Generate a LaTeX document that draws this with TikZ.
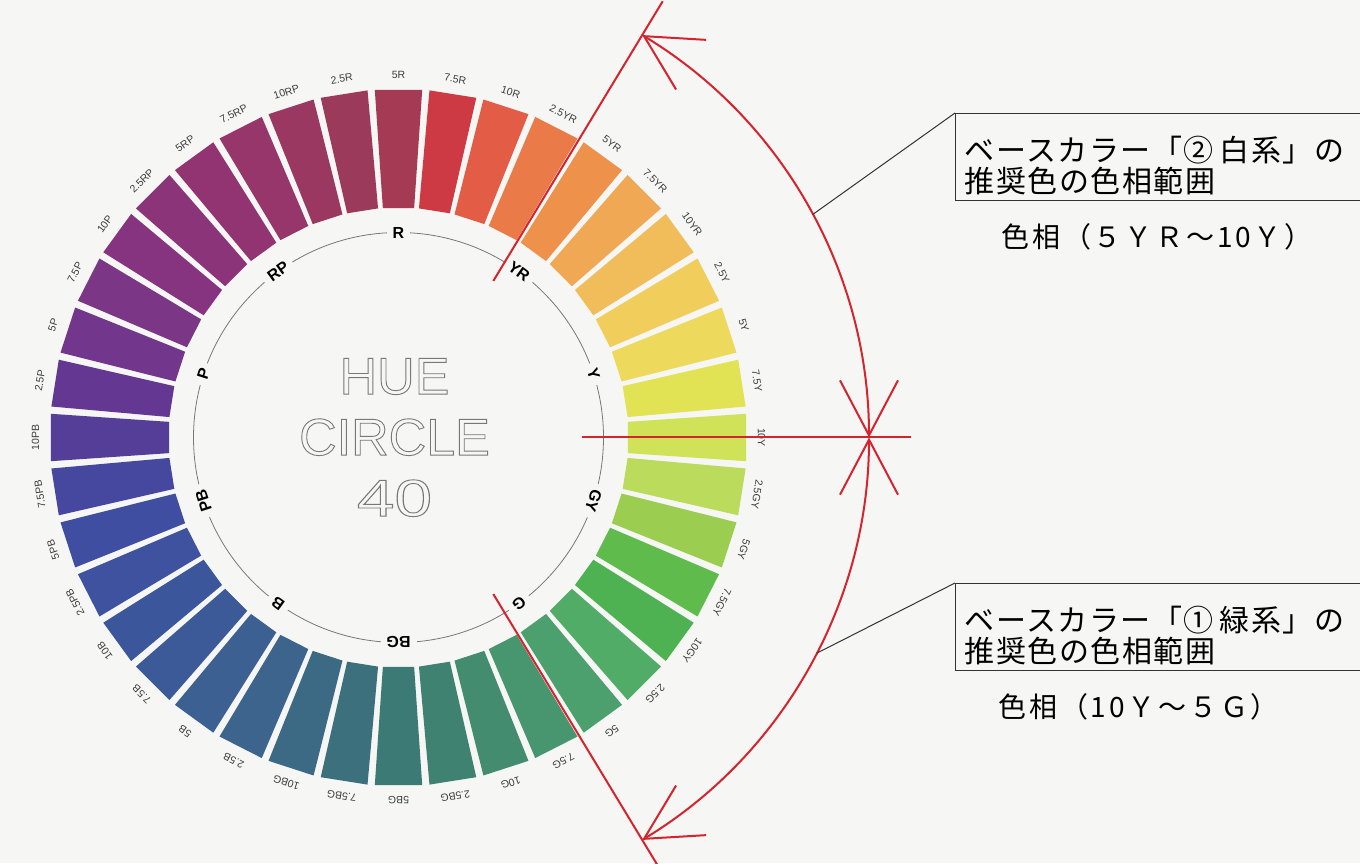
\documentclass[tikz,border=0pt]{standalone}
\usepackage{fontspec}
\setmainfont{Liberation Sans}
\newfontfamily\jpfont{Noto Sans CJK JP}[LetterSpace=5]
\newfontfamily\jpwide{Noto Sans CJK JP}[LetterSpace=10]
\usepackage{graphicx}
\usetikzlibrary{arrows.meta}
\definecolor{hcred}{RGB}{212,36,46}
\definecolor{hcpaper}{RGB}{246,246,244}
\definecolor{hcgray}{RGB}{120,120,120}
\definecolor{hctext}{RGB}{60,60,60}
% stroked (hollow) letters
\newcommand{\hollow}[1]{\special{pdf:literal direct 1 Tr 0.9 w}#1\special{pdf:literal direct 0 Tr}}

\begin{document}
\begin{tikzpicture}[x=1pt,y=1pt,
    patchlabel/.style={font=\fontsize{10.5}{10.5}\selectfont, text=hctext, inner sep=1pt},
    huelabel/.style={font=\bfseries\fontsize{16}{16}\selectfont, fill=hcpaper, inner xsep=6pt, inner ysep=1pt},
    redline/.style={hcred, line width=2pt},
    rangearc/.style={redline, {Straight Barb[length=55pt,width=58pt]}-{Straight Barb[length=55pt,width=58pt]}},
    notebox/.style={draw=black!80, line width=1pt, anchor=north west, align=left,
        inner xsep=9pt, inner ysep=6pt, text width=405pt, font=\jpfont\fontsize{30}{31}\selectfont},
    huerange/.style={anchor=west, font=\jpwide\fontsize{28}{28}\selectfont}
]
    % Paper
    \clip (0,0) rectangle (1360,863);
    \fill[hcpaper] (0,0) rectangle (1360,863);

    \begin{scope}[shift={(398.5,425.5)}]
    % Draw the colour patches
    \foreach \name/\r/\g/\b [count=\i from 0] in {
        5R/165/58/85, 7.5R/205/58/68, 10R/226/92/70, 2.5YR/234/122/72,
        5YR/238/145/75, 7.5YR/240/168/85, 10YR/241/188/90, 2.5Y/241/205/92,
        5Y/237/218/92, 7.5Y/226/226/85, 10Y/208/226/88, 2.5GY/186/219/92,
        5GY/155/205/80, 7.5GY/95/188/76, 10GY/78/178/82, 2.5G/80/172/102,
        5G/76/160/110, 7.5G/72/150/112, 10G/68/140/112, 2.5BG/64/130/114,
        5BG/60/122/118, 7.5BG/60/112/124, 10BG/60/106/132, 2.5B/60/100/140,
        5B/60/96/146, 7.5B/60/90/152, 10B/60/86/156, 2.5PB/62/82/160,
        5PB/64/78/162, 7.5PB/70/72/160, 10PB/84/62/152, 2.5P/100/56/146,
        5P/114/54/140, 7.5P/124/54/134, 10P/134/52/128, 2.5RP/140/52/122,
        5RP/146/52/114, 7.5RP/150/54/106, 10RP/154/56/98, 2.5R/156/58/92}{
        \pgfmathsetmacro{\a}{90-9*\i}
        \fill[fill={rgb,255:red,\r;green,\g;blue,\b}]
            (\a+3.9:230) -- (\a+3.9:348.5) -- (\a-3.9:348.5) -- (\a-3.9:230) -- cycle;
        \node[patchlabel, rotate=\a-90] (p\i) at (\a:363) {\name};
    }

    % Inner circle and main hues
    \draw[hcgray, line width=0.8pt] (0,0) circle[radius=205];
    \foreach \name [count=\i from 0] in {R,YR,Y,GY,G,BG,B,PB,P,RP}{
        \pgfmathsetmacro{\a}{90-36*\i}
        \node[huelabel, rotate=\a-90] (h\name) at (\a:205) {\name};
    }

    % Title
    \node[hcgray, align=center, font=\fontsize{52}{61}\selectfont] (title) at (-4,0)
        {\hollow{HUE}\\\hollow{CIRCLE}\\\scalebox{1.3}[1]{\hollow{40}}};

    % Recommended ranges
    \draw[redline] (58.8:183) -- (58.8:510);
    \draw[redline] (0:183) -- (0:512);
    \draw[redline] (-58.8:183) -- (-58.8:510);
    \draw[rangearc] (58.8:470.5) arc[start angle=58.8, end angle=0, radius=470.5];
    \draw[rangearc] (0:470.5) arc[start angle=0, end angle=-58.8, radius=470.5];
    \coordinate (white) at (28.3:470.5);
    \coordinate (green) at (-27.3:470.5);
    \end{scope}

    % Notes
    \node[notebox] (box1) at (955,750)
        {\rule{0pt}{42pt}ベースカラー「②\hspace{6pt}白系」の\\推奨色の色相範囲};
    \node[huerange] (range1) at (998,626) {色相（５ＹＲ～10Ｙ）};
    \node[notebox] (box2) at (955,280)
        {\rule{0pt}{42pt}ベースカラー「①\hspace{6pt}緑系」の\\推奨色の色相範囲};
    \node[huerange] (range2) at (995,156) {色相（10Ｙ～５Ｇ）};
    \draw[black!80, line width=1pt] (box1.north west) -- (white);
    \draw[black!80, line width=1pt] (box2.north west) -- (green);
\end{tikzpicture}
\end{document}
